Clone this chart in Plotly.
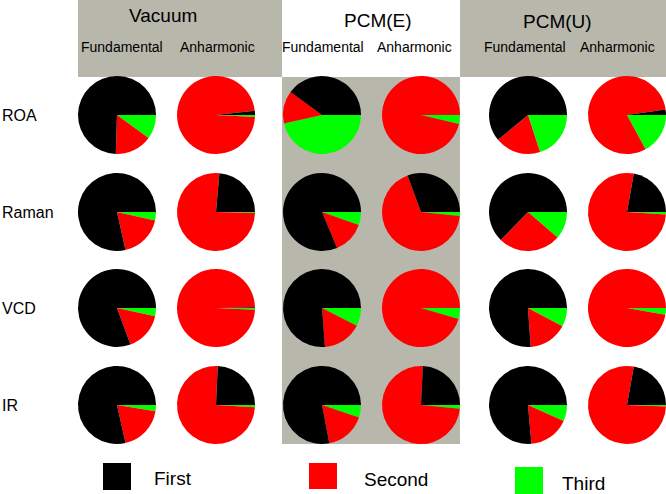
import plotly.graph_objects as go

# ---- data ----
categories = ["First", "Second", "Third"]
methods = ["ROA", "Raman", "VCD", "IR"]
environments = ["Vacuum", "PCM(E)", "PCM(U)"]
kinds = ["Fundamental", "Anharmonic"]

# each list: panels in order Vac-Fund, Vac-Anh, PCM(E)-Fund, PCM(E)-Anh, PCM(U)-Fund, PCM(U)-Anh
# each panel: [First, Second, Third]
roa = [[0.745, 0.155, 0.100], [0.017, 0.975, 0.008],
       [0.400, 0.135, 0.465], [0.000, 0.963, 0.037],
       [0.610, 0.190, 0.200], [0.023, 0.806, 0.171]]
raman = [[0.785, 0.180, 0.035], [0.236, 0.760, 0.004],
         [0.813, 0.133, 0.054], [0.306, 0.678, 0.016],
         [0.627, 0.260, 0.113], [0.222, 0.768, 0.010]]
vcd = [[0.806, 0.160, 0.034], [0.003, 0.990, 0.007],
       [0.762, 0.163, 0.075], [0.000, 0.955, 0.045],
       [0.761, 0.161, 0.078], [0.000, 0.972, 0.028]]
ir = [[0.785, 0.189, 0.026], [0.243, 0.748, 0.009],
      [0.780, 0.168, 0.052], [0.242, 0.743, 0.015],
      [0.764, 0.169, 0.067], [0.222, 0.772, 0.006]]
rows_data = [roa, raman, vcd, ir]

colors = ["#000000", "#FF0000", "#00FF00"]
gray = "#B8B7AC"

W, H = 666, 494
col_cx = [117, 216, 322, 421, 528, 627]
row_cy = [115, 212, 308, 405]
R = 39

def px(x):
    return x / W

def py(y):
    return 1 - y / H

fig = go.Figure()
for ri, row in enumerate(rows_data):
    for ci, vals in enumerate(row):
        cx, cy = col_cx[ci], row_cy[ri]
        # First starts at 3 o'clock and runs counterclockwise; equivalently,
        # going clockwise from 3 o'clock: Third, Second, First.
        fig.add_trace(go.Pie(
            labels=categories[::-1], values=list(vals)[::-1], sort=False,
            direction="clockwise", rotation=90,
            marker=dict(colors=colors[::-1], line=dict(width=0)),
            textinfo="none", hoverinfo="label+percent", showlegend=False,
            domain=dict(x=[px(cx - R), px(cx + R)], y=[py(cy + R), py(cy - R)]),
        ))

shapes = [
    dict(type="rect", xref="paper", yref="paper", x0=px(78), x1=px(282), y0=py(77), y1=py(0),
         fillcolor=gray, line=dict(width=0), layer="below"),
    dict(type="rect", xref="paper", yref="paper", x0=px(460), x1=px(666), y0=py(77), y1=py(0),
         fillcolor=gray, line=dict(width=0), layer="below"),
    dict(type="rect", xref="paper", yref="paper", x0=px(282), x1=px(460), y0=py(444), y1=py(77),
         fillcolor=gray, line=dict(width=0), layer="below"),
]

font = "Liberation Sans, Arial, sans-serif"
ann = []
env_x = [163, 378, 557]
env_y = [16, 20, 22]
for e, x, y in zip(environments, env_x, env_y):
    ann.append(dict(text=e, x=px(x), y=py(y), xref="paper", yref="paper", showarrow=False,
                    font=dict(family=font, size=19, color="black"), xanchor="center", yanchor="middle"))
sub_x = [122, 217, 323, 414, 525, 617]
for i, x in enumerate(sub_x):
    ann.append(dict(text=kinds[i % 2], x=px(x), y=py(47), xref="paper", yref="paper", showarrow=False,
                    font=dict(family=font, size=14, color="black"), xanchor="center", yanchor="middle"))
for m, y in zip(methods, row_cy):
    ann.append(dict(text=m, x=0, y=py(y), xref="paper", yref="paper", showarrow=False,
                    font=dict(family=font, size=16, color="black"), xanchor="left", yanchor="middle"))

# legend: squares + labels
leg_sq = [(103, 131, 463, 490), (309, 337, 463, 489), (515, 543, 467, 494)]
leg_tx = [(152, 478), (362, 479), (560, 483)]
for (x0, x1, y0, y1), col, (tx, ty), lab in zip(leg_sq, colors, leg_tx, categories):
    shapes.append(dict(type="rect", xref="paper", yref="paper", x0=px(x0), x1=px(x1), y0=py(y1), y1=py(y0),
                       fillcolor=col, line=dict(width=0)))
    ann.append(dict(text=lab, x=px(tx), y=py(ty), xref="paper", yref="paper", showarrow=False,
                    font=dict(family=font, size=19, color="black"), xanchor="left", yanchor="middle"))

fig.update_layout(
    width=W, height=H, margin=dict(l=0, r=0, t=0, b=0),
    paper_bgcolor="white", plot_bgcolor="white",
    shapes=shapes, annotations=ann, showlegend=False,
)
fig.write_html("out.html")
